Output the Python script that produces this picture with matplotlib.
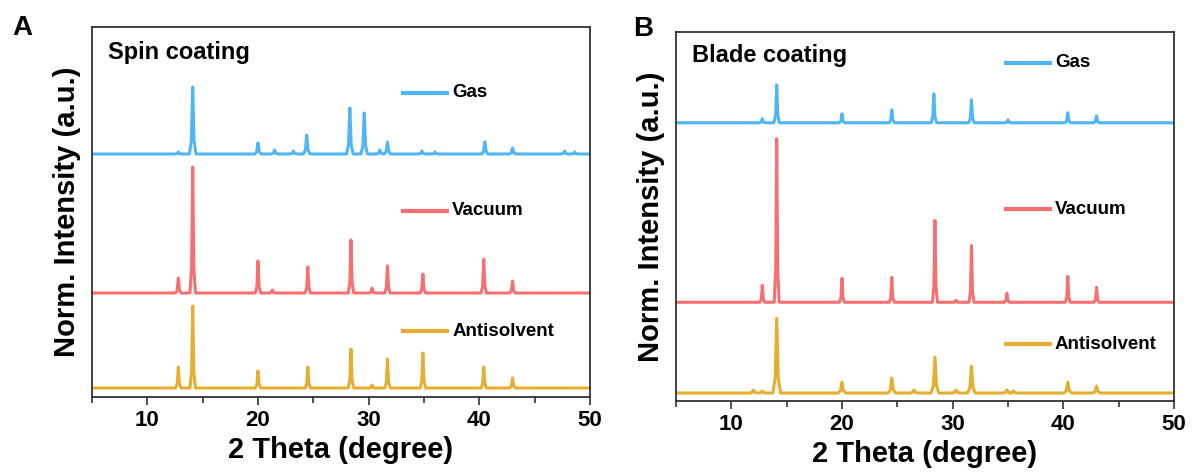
import matplotlib
matplotlib.use("Agg")
import matplotlib.pyplot as plt
import numpy as np

plt.rcParams['font.family'] = ['Liberation Sans', 'DejaVu Sans']
plt.rcParams['font.weight'] = 'bold'

# 2 theta range
x_range = (5, 50)

# Panel A : spin coating (peak position, peak height above baseline, baseline)
spin_gas_pos = [12.8, 14.1, 20.0, 21.5, 23.2, 24.4, 28.3, 29.6, 31.0, 31.7, 34.8, 36.0, 40.5, 43.0, 47.7, 48.6]
spin_gas_int = [2, 67, 11, 4, 3, 19, 46, 41, 4, 12, 3, 2, 12, 6, 3, 2]
spin_gas_base = 243

spin_vac_pos = [12.8, 14.1, 20.0, 21.3, 24.5, 28.4, 30.3, 31.7, 34.9, 40.4, 43.0]
spin_vac_int = [15, 126, 32, 3, 26, 53, 5, 27, 19, 34, 12]
spin_vac_base = 104

spin_anti_pos = [12.8, 14.1, 20.0, 24.5, 28.4, 30.3, 31.7, 34.9, 40.4, 43.0]
spin_anti_int = [21, 82, 17, 21, 39, 3, 29, 35, 21, 10]
spin_anti_base = 9

# Panel B : blade coating
blade_gas_pos = [12.8, 14.1, 20.0, 24.5, 28.3, 31.7, 35.0, 40.4, 43.0]
blade_gas_int = [4, 38, 9, 13, 29, 23, 3, 10, 7]
blade_gas_base = 279

blade_vac_pos = [12.8, 14.1, 20.0, 24.5, 28.4, 30.3, 31.7, 34.9, 40.4, 43.0]
blade_vac_int = [17, 164, 24, 25, 82, 2, 57, 9, 26, 15]
blade_vac_base = 99

blade_anti_pos = [12.0, 12.8, 14.1, 20.0, 24.5, 26.5, 28.4, 30.3, 31.7, 34.9, 35.5, 40.4, 43.0]
blade_anti_int = [3, 2, 75, 11, 15, 3, 36, 3, 27, 3, 2, 11, 7]
blade_anti_base = 8

labels = ['Gas', 'Vacuum', 'Antisolvent']
colors = ['#4FB6F5', '#F96F6F', '#E5AE2E']


def pattern(pos, inten, base, w=0.12):
    # polyline through baseline and peak tops
    xs, ys = [x_range[0]], [base]
    for p, h in zip(pos, inten):
        xs += [p - 2.5 * w, p - w, p, p + w, p + 2.5 * w]
        ys += [base, base + 0.2 * h, base + h, base + 0.2 * h, base]
    xs.append(x_range[1])
    ys.append(base)
    return xs, ys


fig = plt.figure(figsize=(11.92, 4.73), dpi=100)
ax_a = fig.add_axes([92 / 1192, 76 / 473, 498 / 1192, 370 / 473])
ax_b = fig.add_axes([676 / 1192, 72 / 473, 498 / 1192, 369 / 473])

panels = [
    (ax_a, 'Spin coating', 0.930,
     [(spin_gas_pos, spin_gas_int, spin_gas_base, 0.12),
      (spin_vac_pos, spin_vac_int, spin_vac_base, 0.10),
      (spin_anti_pos, spin_anti_int, spin_anti_base, 0.10)],
     [0.822, 0.503, 0.178], 0.625),
    (ax_b, 'Blade coating', 0.937,
     [(blade_gas_pos, blade_gas_int, blade_gas_base, 0.10),
      (blade_vac_pos, blade_vac_int, blade_vac_base, 0.09),
      (blade_anti_pos, blade_anti_int, blade_anti_base, 0.14)],
     [0.916, 0.520, 0.154], 0.663),
]

for ax, title, ty, traces, leg_y, leg_x in panels:
    for (pos, inten, base, w), c, lab, ly in zip(traces, colors, labels, leg_y):
        xs, ys = pattern(pos, inten, base, w)
        ax.plot(xs, ys, color=c, lw=2.2, solid_joinstyle='round')
        ax.plot([leg_x, leg_x + 0.088], [ly, ly], color=c, lw=3, transform=ax.transAxes)
        ax.text(leg_x + 0.098, ly, lab, transform=ax.transAxes, fontsize=13.5,
                va='center', ha='left')
    ax.set_xlim(*x_range)
    ax.set_ylim(0, 370)
    ax.set_yticks([])
    ax.set_xticks([10, 20, 30, 40, 50])
    ax.set_xticks([5, 15, 25, 35, 45], minor=True)
    ax.tick_params(axis='x', which='major', direction='out', length=6, width=1.2,
                   labelsize=16, colors='#333333', labelcolor='black', pad=3)
    ax.tick_params(axis='x', which='minor', direction='out', length=4, width=1.2,
                   colors='#333333')
    for sp in ax.spines.values():
        sp.set_linewidth(1.3)
        sp.set_color('#333333')
    for t in ax.get_xticklabels():
        t.set_fontweight('bold')
    ax.text(0.032, ty, title, transform=ax.transAxes, fontsize=17,
            fontweight='bold', va='center', ha='left')
    ax.set_xlabel('2 Theta (degree)', fontsize=21, fontweight='bold', labelpad=4)
    ax.set_ylabel('Norm. Intensity (a.u.)', fontsize=21, fontweight='bold', labelpad=8)

fig.text(22 / 1192, 1 - 28 / 473, 'A', fontsize=20, fontweight='bold', ha='center', va='center')
fig.text(643 / 1192, 1 - 29 / 473, 'B', fontsize=20, fontweight='bold', ha='center', va='center')

fig.savefig('out.png', dpi=100)
